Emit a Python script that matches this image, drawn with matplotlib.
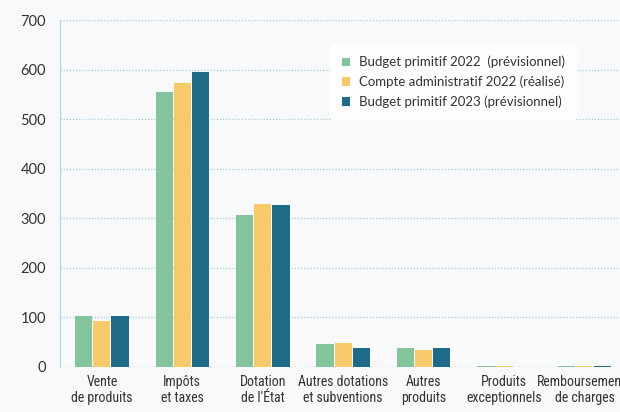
import matplotlib
matplotlib.use("Agg")
import matplotlib.pyplot as plt
from matplotlib import font_manager
import numpy as np

categories = ["Vente\nde produits", "Impôts\net taxes", "Dotation\nde l'État",
              "Autres dotations\net subventions", "Autres\nproduits",
              "Produits\nexceptionnels", "Remboursements\nde charges"]
series_names = ["Budget primitif 2022  (prévisionnel)",
                "Compte administratif 2022 (réalisé)",
                "Budget primitif 2023 (prévisionnel)"]
bp2022 = [102, 555, 306, 46, 38, 3, 1.5]
ca2022 = [93, 573, 329, 49, 34, 3, 3]
bp2023 = [102, 595, 327, 38, 38, 0, 2]
yticks = [0, 100, 200, 300, 400, 500, 600, 700]

colors = ["#84c49c", "#f6c96b", "#1f6a86"]

plt.rcParams['font.family'] = ['Lato', 'DejaVu Sans']
available = {f.name for f in font_manager.fontManager.ttflist}
narrow = [f for f in ['Roboto Condensed', 'Liberation Sans Narrow', 'Open Sans Condensed'] if f in available]
xfam = narrow + ['Lato', 'DejaVu Sans']

fig = plt.figure(figsize=(6.2, 4.12), dpi=100)
bg = "#f7f9fb"
fig.patch.set_facecolor(bg)
ax = fig.add_axes([60/620, 1-367/412, 560/620, (367-20)/412])
ax.set_facecolor(bg)

x = np.arange(len(categories))
w = 0.215
gap = 0.01
for i, (vals, c, name) in enumerate(zip([bp2022, ca2022, bp2023], colors, series_names)):
    ax.bar(x + (i-1)*(w+gap), vals, width=w, color=c, label=name, zorder=3)

ax.set_xlim(-0.52, 6.44)
ax.set_ylim(0, 700)
ax.set_yticks(yticks)
ax.set_yticklabels([str(t) for t in yticks])
ax.set_xticks(x)
ax.set_xticklabels(categories, fontsize=10 if narrow else 9, color="#333333",
                   linespacing=1.15, family=xfam)
ax.tick_params(axis='x', length=0, pad=6)
ax.tick_params(axis='y', length=0, pad=10, labelsize=10.5, labelcolor="#333333")
ax.grid(axis='y', color="#a9cbe0", linestyle=(0, (1, 1.5)), linewidth=0.9, zorder=0)
for s in ['top', 'right', 'bottom']:
    ax.spines[s].set_visible(False)
ax.spines['left'].set_color("#b5d3e6")
ax.spines['left'].set_linewidth(0.9)
ax.axhline(0, color="#a9cbe0", linestyle=(0, (1, 1.5)), linewidth=0.9, zorder=1)

leg = ax.legend(loc='upper left', bbox_to_anchor=(0.47, 0.95), frameon=True,
                fontsize=9.5, handlelength=0.6, handleheight=0.6, handletextpad=0.7,
                labelspacing=0.55, borderpad=0.9)
leg.get_frame().set_facecolor("#ffffff")
leg.get_frame().set_edgecolor("none")
leg.get_frame().set_alpha(0.9)
for t in leg.get_texts():
    t.set_color("#333333")

fig.savefig("out.png", dpi=100, facecolor=bg)
